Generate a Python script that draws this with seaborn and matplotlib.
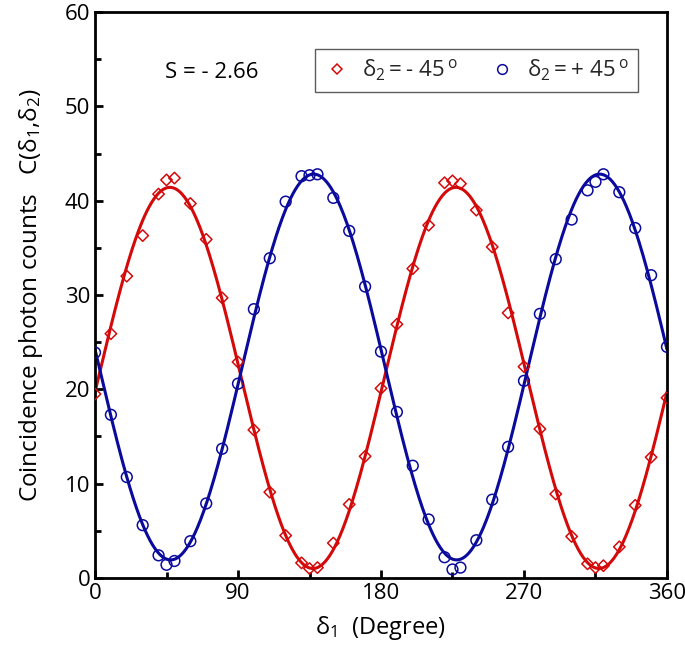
import numpy as np
import pandas as pd
import matplotlib
matplotlib.use("Agg")
import matplotlib.pyplot as plt
from matplotlib.lines import Line2D
from matplotlib.ticker import MultipleLocator
import seaborn as sns

# measured angles (degree), with extra points at 45, 135, 225, 315
angles = [0, 10, 20, 30, 40, 45, 50, 60, 70, 80, 90, 100, 110, 120, 130, 135, 140,
          150, 160, 170, 180, 190, 200, 210, 220, 225, 230, 240, 250, 260, 270, 280,
          290, 300, 310, 315, 320, 330, 340, 350, 360]

counts_minus45 = [19.5, 25.9, 32.0, 36.3, 40.7, 42.2, 42.4, 39.7, 35.9, 29.7, 22.9,
                  15.7, 9.1, 4.5, 1.6, 1.0, 1.1, 3.7, 7.8, 12.9, 20.1, 26.9, 32.8,
                  37.4, 41.9, 42.1, 41.8, 39.0, 35.1, 28.1, 22.4, 15.8, 8.9, 4.4,
                  1.5, 1.1, 1.3, 3.3, 7.7, 12.8, 19.1]

counts_plus45 = [23.9, 17.3, 10.7, 5.6, 2.4, 1.4, 1.8, 3.9, 7.9, 13.7, 20.6, 28.5,
                 33.9, 39.9, 42.6, 42.7, 42.8, 40.3, 36.8, 30.9, 24.0, 17.6, 11.9,
                 6.2, 2.2, 0.9, 1.1, 4.0, 8.3, 13.9, 20.9, 28.0, 33.8, 38.0, 41.1,
                 42.0, 42.8, 40.9, 37.1, 32.1, 24.5]

labels = [r"$\delta_2 = $- 45$\,^{\mathrm{o}}$", r"$\delta_2 = $+ 45$\,^{\mathrm{o}}$"]
s_value = "S = - 2.66"

red = "#d40a0a"
blue = "#0a0a9c"


def fit_curve(x, y, grid):
    # least squares fit of a + b cos(2x) + c sin(2x)
    xr = np.radians(np.asarray(x, float))
    A = np.column_stack([np.ones_like(xr), np.cos(2 * xr), np.sin(2 * xr)])
    coef, *_ = np.linalg.lstsq(A, np.asarray(y, float), rcond=None)
    g = np.radians(grid)
    return coef[0] + coef[1] * np.cos(2 * g) + coef[2] * np.sin(2 * g)


df = pd.DataFrame({"angle": angles, "m45": counts_minus45, "p45": counts_plus45})
grid = np.linspace(0, 360, 721)
fit_df = pd.DataFrame({"angle": grid,
                       "m45": fit_curve(angles, counts_minus45, grid),
                       "p45": fit_curve(angles, counts_plus45, grid)})

sns.set_theme(style="ticks")
plt.rcParams["font.family"] = ["Open Sans", "DejaVu Sans"]
plt.rcParams["mathtext.fontset"] = "custom"
plt.rcParams["mathtext.rm"] = "Open Sans"
plt.rcParams["mathtext.it"] = "Open Sans"

fig = plt.figure(figsize=(6.85, 6.55), dpi=100)
ax = fig.add_axes([0.1387, 0.1176, 0.835, 0.864])

sns.lineplot(data=fit_df, x="angle", y="m45", color=red, lw=2.2, ax=ax)
sns.lineplot(data=fit_df, x="angle", y="p45", color=blue, lw=2.2, ax=ax)
sns.scatterplot(data=df, x="angle", y="m45", marker="D", s=34, facecolor="none",
                edgecolor=red, linewidth=1.1, ax=ax, zorder=3)
sns.scatterplot(data=df, x="angle", y="p45", marker="o", s=60, facecolor="none",
                edgecolor=blue, linewidth=1.1, ax=ax, zorder=3)

ax.set_xlim(0, 360)
ax.set_ylim(0, 60)
ax.xaxis.set_major_locator(MultipleLocator(90))
ax.xaxis.set_minor_locator(MultipleLocator(45))
ax.yaxis.set_major_locator(MultipleLocator(10))
ax.yaxis.set_minor_locator(MultipleLocator(5))
ax.tick_params(axis="both", which="both", direction="in", labelsize=16,
               top=False, right=False, width=2.0, color="black", labelcolor="black")
ax.tick_params(which="major", length=6)
ax.tick_params(which="minor", length=4)
for sp in ax.spines.values():
    sp.set_linewidth(2.0)
    sp.set_color("black")

ax.set_xlabel(r"$\delta_1$  (Degree)", fontsize=17, color="black", labelpad=7)
ax.set_ylabel(r"Coincidence photon counts   C($\delta_1$,$\delta_2$)", fontsize=17.5,
              color="black", labelpad=14)

ax.text(0.123, 0.893, s_value, transform=ax.transAxes, fontsize=16, color="black",
        va="center", ha="left")

handles = [Line2D([], [], ls="none", marker="D", ms=5.5, mfc="none", mec=red, mew=1.1),
           Line2D([], [], ls="none", marker="o", ms=7, mfc="none", mec=blue, mew=1.1)]
leg = ax.legend(handles, labels, loc="upper left", bbox_to_anchor=(0.365, 0.955),
                ncol=2, fontsize=16, frameon=True, fancybox=False, handletextpad=0.5,
                columnspacing=1.4, borderpad=0.4, handlelength=1.2)
leg.get_frame().set_edgecolor("#333333")
leg.get_frame().set_linewidth(1.0)

fig.savefig("out.png", dpi=100)
